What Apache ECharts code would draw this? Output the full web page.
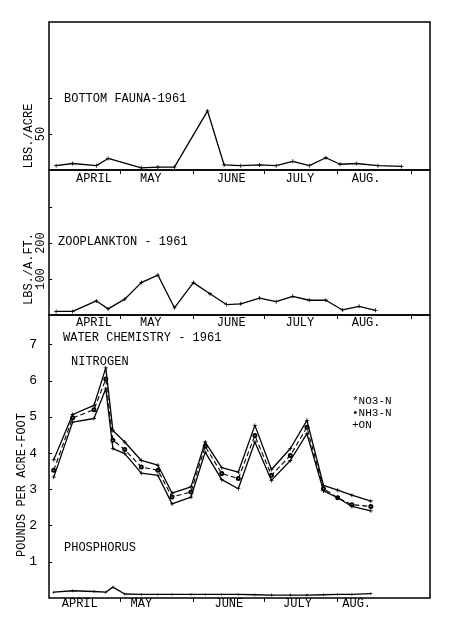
<!DOCTYPE html>
<html>
<head>
<meta charset="utf-8">
<script src="https://cdn.jsdelivr.net/npm/echarts@6/dist/echarts.min.js"></script>
<style>
  html, body { margin: 0; padding: 0; background: #fff; }
  #chart { width: 450px; height: 627px; }
</style>
</head>
<body>
<div id="chart"></div>
<script>
// month labels and where they sit (days after April 1)
const monthNames = ["APRIL", "MAY", "JUNE", "JULY", "AUG."]
const monthLabelDaysTop = [19, 43, 77, 106, 134]
const monthLabelDaysChem = [13, 39, 76, 105, 130]
const monthTickDays = [30, 61, 91, 122, 153]
const monthTickDaysChem = [30, 61, 91, 122]

// bottom fauna, lbs / acre
const faunaDays = [3, 10, 20, 25, 39, 46, 53, 67, 74, 81, 89, 96, 103, 110, 117, 123, 130, 139, 149]
const faunaLbs = [6, 9, 6, 16, 3, 4, 4, 82, 7, 6, 7, 6, 12, 6, 17, 8, 9, 6, 5]

// zooplankton, lbs / acre-foot
const zooDays = [3, 10, 20, 25, 32, 39, 46, 53, 61, 68, 75, 81, 89, 96, 103, 110, 117, 124, 131, 138]
const zooLbs = [10, 10, 39, 17, 44, 90, 111, 20, 90, 59, 29, 31, 47, 37, 52, 41, 41, 14, 24, 13]

// water chemistry, pounds per acre-foot
const chemDays = [2, 10, 19, 24, 27, 32, 39, 46, 52, 60, 66, 73, 80, 87, 94, 102, 109, 116, 122, 128, 136]
const no3 = [3.82, 5.07, 5.32, 6.36, 4.63, 4.31, 3.8, 3.67, 2.9, 3.07, 4.31, 3.6, 3.48, 4.77, 3.55, 4.13, 4.91, 3.11, 2.98, 2.84, 2.68]
const nh3 = [3.53, 4.98, 5.2, 6.05, 4.36, 4.1, 3.62, 3.53, 2.79, 2.93, 4.19, 3.44, 3.3, 4.49, 3.39, 3.94, 4.72, 3.02, 2.77, 2.58, 2.53]
const on = [3.34, 4.86, 4.96, 5.78, 4.13, 3.99, 3.45, 3.39, 2.6, 2.79, 4.03, 3.27, 3.02, 4.31, 3.25, 3.8, 4.54, 2.96, 2.77, 2.53, 2.41]
const phos = [0.16, 0.2, 0.18, 0.16, 0.3, 0.11, 0.1, 0.1, 0.1, 0.1, 0.1, 0.1, 0.1, 0.09, 0.08, 0.08, 0.08, 0.09, 0.1, 0.1, 0.12]

const ink = "#000"
const font = "Liberation Mono"
const plus = "path://M4,0H6V4H10V6H6V10H4V6H0V4H4Z"

const pair = (xs, ys) => xs.map((x, i) => [x, ys[i]])

function monthAxis(gridIndex, labelDays, tickDays, margin) {
    return {
        type: "value", gridIndex, min: 0, max: 161,
        splitLine: { show: false },
        axisLine: { show: false },
        axisTick: { customValues: tickDays, length: 4, lineStyle: { color: ink } },
        axisLabel: {
            customValues: labelDays, margin,
            color: ink, fontFamily: font, fontSize: 12,
            formatter: v => monthNames[labelDays.indexOf(v)] || ""
        }
    }
}

function line(xi, yi, xs, ys, extra) {
    return Object.assign({
        type: "line", xAxisIndex: xi, yAxisIndex: yi,
        data: pair(xs, ys),
        symbol: plus, symbolSize: 4, showSymbol: true,
        itemStyle: { color: ink },
        lineStyle: { color: ink, width: 1.3 },
        animation: false
    }, extra || {})
}

const gridBase = { left: 49, right: 20, show: true, borderColor: ink, borderWidth: 1.5, containLabel: false, outerBoundsMode: "none" }

const txt = (x, y, text, extra) => ({
    type: "text", x, y,
    style: Object.assign({ text, fill: ink, font: "12px " + font, verticalAlign: "middle" }, extra || {})
})

const chart = echarts.init(document.getElementById("chart"))
chart.setOption({
    backgroundColor: "#fff",
    animation: false,
    grid: [
        Object.assign({ top: 22, height: 148 }, gridBase),
        Object.assign({ top: 170, height: 145 }, gridBase),
        Object.assign({ top: 315, height: 283 }, gridBase)
    ],
    xAxis: [
        monthAxis(0, monthLabelDaysTop, monthTickDays, 3),
        monthAxis(1, monthLabelDaysTop, monthTickDays, 2),
        monthAxis(2, monthLabelDaysChem, monthTickDaysChem, 0)
    ],
    yAxis: [
        {
            type: "value", gridIndex: 0, min: 0, max: 205.5,
            splitLine: { show: false }, axisLine: { show: false },
            axisTick: { customValues: [50, 100], inside: true, length: 3, lineStyle: { color: ink } },
            axisLabel: { customValues: [50], rotate: 90, margin: 2, color: ink, fontFamily: font, fontSize: 12 }
        },
        {
            type: "value", gridIndex: 1, min: 0, max: 403,
            splitLine: { show: false }, axisLine: { show: false },
            axisTick: { customValues: [100, 200, 300], inside: true, length: 3, lineStyle: { color: ink } },
            axisLabel: { customValues: [100, 200], rotate: 90, margin: 2, color: ink, fontFamily: font, fontSize: 12 }
        },
        {
            type: "value", gridIndex: 2, min: 0, max: 7.82,
            splitLine: { show: false }, axisLine: { show: false },
            axisTick: { customValues: [1, 2, 3, 4, 5, 6, 7], inside: true, length: 3, lineStyle: { color: ink } },
            axisLabel: { customValues: [1, 2, 3, 4, 5, 6, 7], margin: 12, color: ink, fontFamily: font, fontSize: 13 }
        }
    ],
    series: [
        line(0, 0, faunaDays, faunaLbs),
        line(1, 1, zooDays, zooLbs),
        line(2, 2, chemDays, no3, { name: "NO3-N" }),
        line(2, 2, chemDays, nh3, {
            name: "NH3-N", symbol: "emptyCircle", symbolSize: 3,
            lineStyle: { color: ink, width: 1.1, type: [5, 3] }
        }),
        line(2, 2, chemDays, on, { name: "ON" }),
        line(2, 2, chemDays, phos, { name: "PHOSPHORUS", symbolSize: 3 })
    ],
    graphic: [
        txt(29, 136, "LBS./ACRE", { align: "center" }),
        txt(29, 269, "LBS./A.FT.", { align: "center" }),
        txt(22, 485, "POUNDS PER ACRE-FOOT", { align: "center" }),
        txt(64, 99, "BOTTOM FAUNA-1961"),
        txt(58, 242, "ZOOPLANKTON - 1961"),
        txt(63, 338, "WATER CHEMISTRY - 1961"),
        txt(71, 362, "NITROGEN"),
        txt(64, 548, "PHOSPHORUS"),
        txt(352, 413, "*NO3-N\n\u2022NH3-N\n+ON", { font: "11px " + font, lineHeight: 12 })
    ].map((g, i) => i < 3 ? Object.assign(g, { rotation: Math.PI / 2 }) : g)
})
</script>
</body>
</html>
